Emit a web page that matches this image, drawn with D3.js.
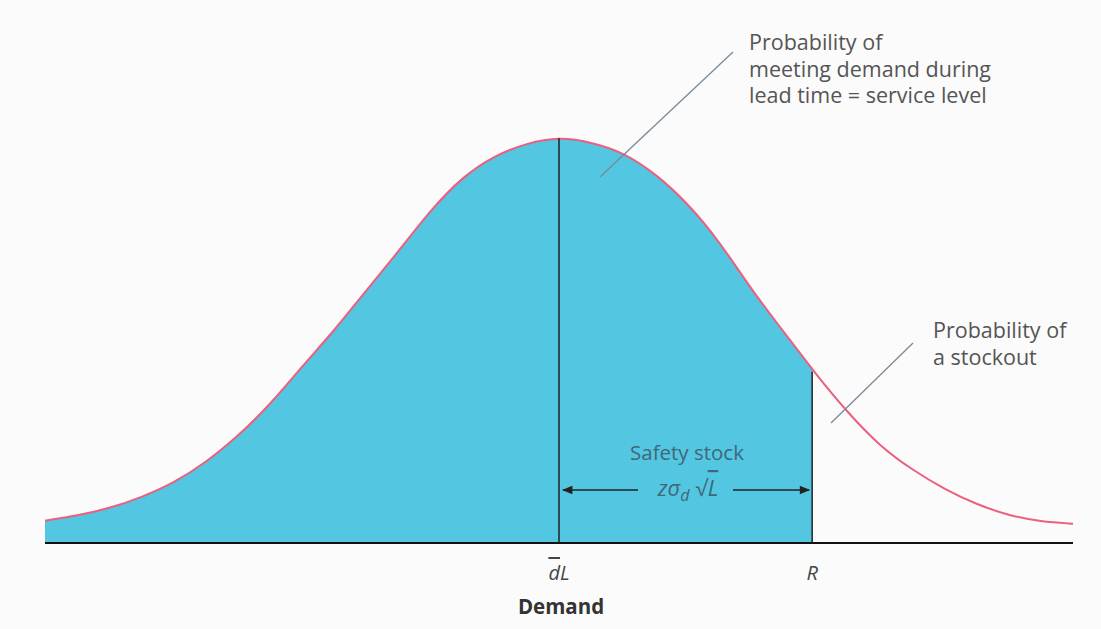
<!DOCTYPE html>
<html>
<head>
<meta charset="utf-8">
<script src="https://cdn.jsdelivr.net/npm/d3@7"></script>
<style>
    html, body { margin: 0; padding: 0; background: #fbfbfb; }
    text { font-family: "Open Sans", Lato, sans-serif; }
</style>
</head>
<body>
<div id="chart"></div>
<script>
// Demand in standard-deviation units (0 = mean demand over lead time)
var demand  = [-4, -3.75, -3.5, -3.25, -3, -2.75, -2.5, -2.25, -2, -1.75, -1.5, -1.25, -1, -0.75, -0.5, -0.25,
               0, 0.25, 0.5, 0.75, 1, 1.25, 1.5, 1.75, 2, 2.25, 2.5, 2.75, 3, 3.25, 3.5, 3.75, 4];
var density = [0.022, 0.027, 0.034, 0.045, 0.059, 0.079, 0.105, 0.136, 0.174, 0.209, 0.249, 0.287, 0.328, 0.361, 0.382, 0.394,
               0.400, 0.395, 0.385, 0.364, 0.335, 0.297, 0.249, 0.208, 0.166, 0.128, 0.095, 0.072, 0.053, 0.038, 0.027, 0.021, 0.019];
var meanDemand = 0;
var reorderPoint = 1.97;
var serviceLabel = ["Probability of", "meeting demand during", "lead time = service level"];
var stockoutLabel = ["Probability of", "a stockout"];

var width = 1101, height = 629,
    fillColor = "#53c6e1",
    curveColor = "#ec5f7e",
    textColor = "#555";

var margin = {left: 45, right: 28, top: 137, bottom: 86};

var svg = d3.select("#chart").append("svg")
    .attr("width", width)
    .attr("height", height);

var x = d3.scaleLinear()
    .domain([-4, 4])
    .range([margin.left, width - margin.right]);

var y = d3.scaleLinear()
    .domain([0, 0.4])
    .range([height - margin.bottom, margin.top]);

var pts = demand.map(function(d, i) { return {x: d, y: density[i]}; });

// Shaded area up to R
svg.append("clipPath").attr("id", "toR")
    .append("rect")
    .attr("x", x(-4)).attr("y", 0)
    .attr("width", x(reorderPoint) - x(-4))
    .attr("height", height);

var area = d3.area()
    .curve(d3.curveBasis)
    .x(function(d) { return x(d.x); })
    .y0(y(0))
    .y1(function(d) { return y(d.y); });

svg.append("path")
    .datum(pts)
    .attr("clip-path", "url(#toR)")
    .attr("d", area)
    .style("fill", fillColor);

// Curve
var line = d3.line()
    .curve(d3.curveBasis)
    .x(function(d) { return x(d.x); })
    .y(function(d) { return y(d.y); });

svg.append("path")
    .datum(pts)
    .attr("d", line)
    .style("fill", "none")
    .style("stroke", curveColor)
    .style("stroke-width", 2);

// Baseline
svg.append("line")
    .attr("x1", x(-4)).attr("x2", x(4))
    .attr("y1", y(0)).attr("y2", y(0))
    .style("stroke", "#111").style("stroke-width", 2);

// Mean and R verticals
var yAt = function(v) {
    var i = d3.bisectLeft(demand, v);
    if (demand[i] === v) return density[i];
    var t = (v - demand[i - 1]) / (demand[i] - demand[i - 1]);
    return density[i - 1] + t * (density[i] - density[i - 1]);
};

svg.append("line")
    .attr("x1", x(meanDemand)).attr("x2", x(meanDemand))
    .attr("y1", y(yAt(meanDemand)) + 1).attr("y2", y(0))
    .style("stroke", "#222").style("stroke-width", 1.5);

svg.append("line")
    .attr("x1", x(reorderPoint)).attr("x2", x(reorderPoint))
    .attr("y1", y(yAt(reorderPoint)) + 2).attr("y2", y(0))
    .style("stroke", "#222").style("stroke-width", 1.5);

// Arrow markers
var defs = svg.append("defs");
defs.append("marker").attr("id", "arr")
    .attr("viewBox", "0 0 10 10").attr("refX", 9).attr("refY", 5)
    .attr("markerWidth", 10).attr("markerHeight", 8).attr("orient", "auto-start-reverse")
    .append("path").attr("d", "M0,1 L10,5 L0,9 z").style("fill", "#222");

var arrowY = 490;
svg.append("line")
    .attr("x1", x(meanDemand) + 4).attr("x2", 638)
    .attr("y1", arrowY).attr("y2", arrowY)
    .attr("marker-start", "url(#arr)")
    .style("stroke", "#222").style("stroke-width", 1.3);
svg.append("line")
    .attr("x1", 733).attr("x2", x(reorderPoint) - 3)
    .attr("y1", arrowY).attr("y2", arrowY)
    .attr("marker-end", "url(#arr)")
    .style("stroke", "#222").style("stroke-width", 1.3);

svg.append("text")
    .attr("x", 687).attr("y", 460)
    .attr("text-anchor", "middle")
    .style("font-size", "20.5px").style("fill", "#3f6878")
    .text("Safety stock");

var f = svg.append("text")
    .attr("x", 688).attr("y", 496)
    .attr("text-anchor", "middle")
    .style("font-size", "22px").style("fill", "#3f6878")
    .style("font-style", "italic");
f.append("tspan").text("zσ");
f.append("tspan").attr("dy", 5).style("font-size", "16px").text("d");
f.append("tspan").attr("dy", -5).attr("dx", 6).style("font-style", "normal").text("√");
f.append("tspan").style("text-decoration", "overline").text("L");

// Annotations
svg.append("line")
    .attr("x1", 600).attr("y1", 177).attr("x2", 733).attr("y2", 52)
    .style("stroke", "#7a8a99").style("stroke-width", 1.3);
svg.append("text")
    .attr("x", 749).attr("y", 50)
    .style("font-size", "21.5px").style("fill", textColor)
    .selectAll("tspan").data(serviceLabel).enter().append("tspan")
    .attr("x", 749).attr("dy", function(d, i) { return i ? 26.5 : 0; })
    .text(function(d) { return d; });

svg.append("line")
    .attr("x1", 831).attr("y1", 423).attr("x2", 913).attr("y2", 343)
    .style("stroke", "#7a8a99").style("stroke-width", 1.3);
svg.append("text")
    .attr("x", 933).attr("y", 338)
    .style("font-size", "21.5px").style("fill", textColor)
    .selectAll("tspan").data(stockoutLabel).enter().append("tspan")
    .attr("x", 933).attr("dy", function(d, i) { return i ? 27 : 0; })
    .text(function(d) { return d; });

// Axis labels
var dl = svg.append("text")
    .attr("x", x(meanDemand)).attr("y", 580)
    .attr("text-anchor", "middle")
    .style("font-size", "20px").style("fill", "#444").style("font-style", "italic");
dl.append("tspan").style("text-decoration", "overline").text("d");
dl.append("tspan").text("L");

svg.append("text")
    .attr("x", x(reorderPoint)).attr("y", 580)
    .attr("text-anchor", "middle")
    .style("font-size", "20px").style("fill", "#444").style("font-style", "italic")
    .text("R");

svg.append("text")
    .attr("x", 561).attr("y", 614)
    .attr("text-anchor", "middle")
    .style("font-size", "20.5px").style("fill", "#333").style("font-weight", "bold")
    .text("Demand");
</script>
</body>
</html>
